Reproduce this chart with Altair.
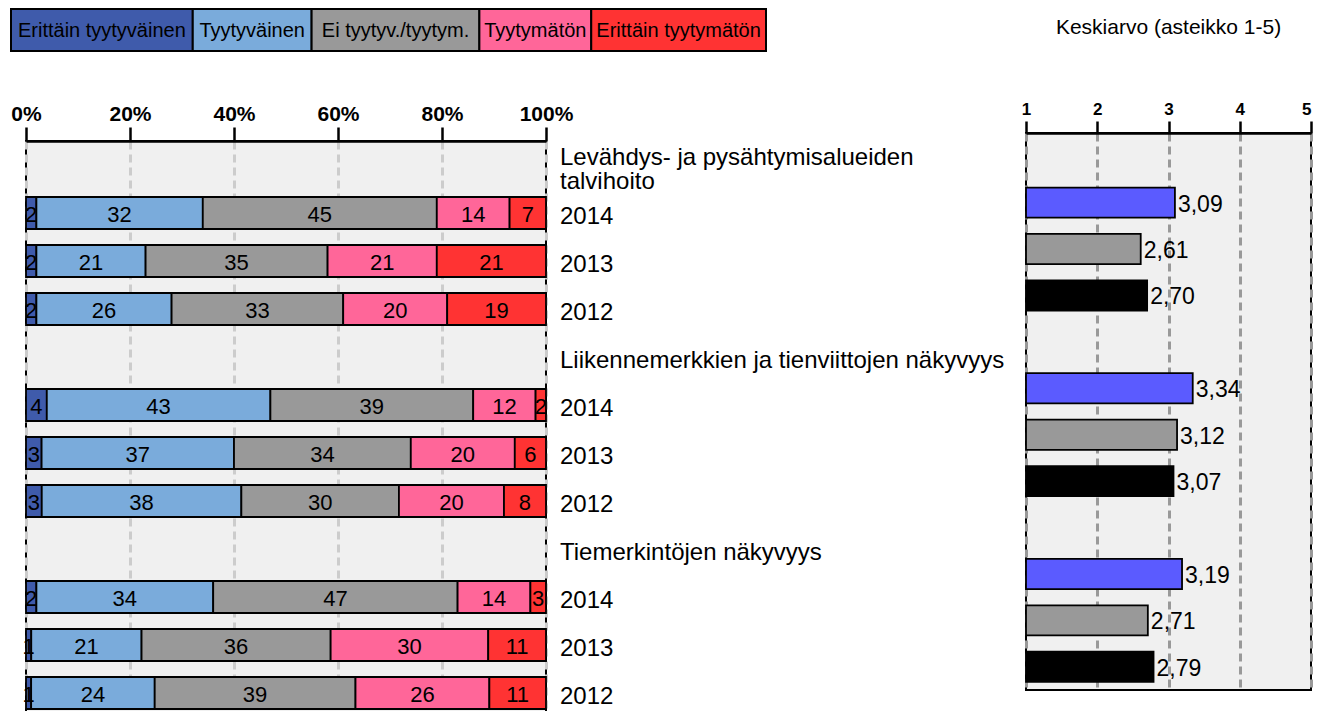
import altair as alt
import pandas as pd

FONT = "Liberation Sans"

# ---------------- data ----------------
categories = [
    "Levähdys- ja pysähtymisalueiden\ntalvihoito",
    "Liikennemerkkien ja tienviittojen näkyvyys",
    "Tiemerkintöjen näkyvyys",
]
years = ["2014", "2013", "2012"]
levels = ["Erittäin tyytyväinen", "Tyytyväinen", "Ei tyytyv./tyytym.",
          "Tyytymätön", "Erittäin tyytymätön"]
level_colors = ["#3f5bab", "#7aabdb", "#999999", "#ff6699", "#ff3333"]
year_colors = ["#5b5bff", "#999999", "#000000"]

# shares (%) per level, order: cat1 2014/2013/2012, cat2 ..., cat3 ...
very_satisfied = [2, 2, 2, 4, 3, 3, 2, 1, 1]
satisfied      = [32, 21, 26, 43, 37, 38, 34, 21, 24]
neutral        = [45, 35, 33, 39, 34, 30, 47, 36, 39]
dissatisfied   = [14, 21, 20, 12, 20, 20, 14, 30, 26]
very_dissat    = [7, 21, 19, 2, 6, 8, 3, 11, 11]
shares = [very_satisfied, satisfied, neutral, dissatisfied, very_dissat]

means = [3.09, 2.61, 2.70, 3.34, 3.12, 3.07, 3.19, 2.71, 2.79]

# ---------------- tables ----------------
rows = []
label_recs = []
for c, cat in enumerate(categories):
    rows.append(f"{c}-h")
    label_recs.append({"row": f"{c}-h", "label": cat})
    for y in years:
        rows.append(f"{c}-{y}")
        label_recs.append({"row": f"{c}-{y}", "label": y})
df_labels = pd.DataFrame(label_recs)

long_recs = []
mean_recs = []
k = 0
for c in range(len(categories)):
    for y in years:
        r = f"{c}-{y}"
        for li, lvl in enumerate(levels):
            long_recs.append({"row": r, "level": lvl, "idx": li, "share": shares[li][k]})
        mean_recs.append({"row": r, "year": y, "mean": means[k],
                          "label": f"{means[k]:.2f}".replace(".", ",")})
        k += 1
df_long = pd.DataFrame(long_recs)
df_mean = pd.DataFrame(mean_recs)
df_leg = pd.DataFrame({"level": levels, "idx": list(range(len(levels)))})

# ---------------- legend (box width follows label length) ----------------
leg_base = alt.Chart(df_leg).transform_calculate(
    w="length(datum.level) + 6"
).transform_stack(
    stack="w", as_=["a0", "a1"], groupby=[],
    sort=[alt.SortField("idx", order="ascending")], offset="normalize"
).transform_calculate(amid="(datum.a0 + datum.a1) / 2")

leg_scale = alt.Scale(domain=[0, 1], range=[-15, 740], nice=False, zero=False)
leg_rect = leg_base.mark_rect(stroke="black", strokeWidth=2).encode(
    x=alt.X("a0:Q", scale=leg_scale, axis=None), x2="a1:Q",
    y=alt.value(0), y2=alt.value(42),
    color=alt.Color("level:N", scale=alt.Scale(domain=levels, range=level_colors), legend=None),
)
leg_text = leg_base.mark_text(fontSize=20, color="black", baseline="middle", dy=1).encode(
    x=alt.X("amid:Q", scale=leg_scale, axis=None), y=alt.value(21), text="level:N"
)
legend = alt.layer(leg_rect, leg_text).properties(width=755, height=42)

# ---------------- left panel ----------------
yL = alt.Y("row:N", sort=rows,
           scale=alt.Scale(domain=rows, paddingInner=1/3, paddingOuter=1/6), axis=None)
x_axis_L = alt.Axis(orient="top", values=[0, 0.2, 0.4, 0.6, 0.8, 1.0], format="%", title=None,
                    labelFontSize=21, labelFontWeight="bold", labelColor="black", labelPadding=3,
                    labelFlush=False,
                    tickSize=14, tickWidth=2.5, tickColor="black",
                    domainColor="black", domainWidth=2.5,
                    grid=True, gridColor="#cccccc", gridWidth=3, gridDash=[8, 5])

stacked = alt.Chart(df_long).transform_stack(
    stack="share", as_=["s0", "s1"], groupby=["row"],
    sort=[alt.SortField("idx", order="ascending")], offset="normalize"
).transform_calculate(mid="(datum.s0 + datum.s1) / 2")

bars_L = stacked.mark_bar(stroke="black", strokeWidth=1.8).encode(
    x=alt.X("s0:Q", scale=alt.Scale(domain=[0, 1], nice=False), axis=x_axis_L),
    x2="s1:Q",
    y=yL,
    color=alt.Color("level:N", scale=alt.Scale(domain=levels, range=level_colors), legend=None),
)
vals_L = stacked.mark_text(fontSize=22, color="black", baseline="middle", dy=2).encode(
    x="mid:Q", y=yL, text=alt.Text("share:Q", format="d")
)
label_base = alt.Chart(df_labels).transform_calculate(
    multi="indexof(datum.label, '\\n') >= 0"
)
row_labels_single = label_base.transform_filter("!datum.multi").mark_text(
    align="left", baseline="middle", fontSize=24, color="black", dy=4
).encode(x=alt.value(534), y=yL, text="label:N")
row_labels_multi = label_base.transform_filter("datum.multi").mark_text(
    align="left", baseline="middle", fontSize=24, color="black", dy=-7,
    lineBreak="\n", lineHeight=24
).encode(x=alt.value(534), y=yL, text="label:N")

left = alt.layer(bars_L, vals_L, row_labels_single, row_labels_multi).properties(
    width=520, height=576,
    view=alt.ViewBackground(fill="#f0f0f0", stroke="black", strokeWidth=2),
)

spacer = alt.Chart(pd.DataFrame({"v": [0]})).mark_rule(opacity=0).encode(
    x=alt.value(0), y=alt.value(0), y2=alt.value(1)
).properties(width=1, height=1)

# ---------------- right panel ----------------
yR = alt.Y("row:N", sort=rows,
           scale=alt.Scale(domain=rows, paddingInner=0.35, paddingOuter=0.175), axis=None)
x_axis_R = alt.Axis(orient="top", values=[1, 2, 3, 4, 5], format="d", title=None,
                    labelFontSize=17, labelFontWeight="bold", labelColor="black", labelPadding=3,
                    labelFlush=False,
                    labelAlign={"condition": {"test": "datum.value === 5", "value": "right"},
                                "value": "center"},
                    tickSize=12, tickWidth=2.5, tickColor="black",
                    domainColor="black", domainWidth=2.5,
                    grid=True, gridColor="#999999", gridWidth=3, gridDash=[8, 5])

bars_R = alt.Chart(df_mean).mark_bar(stroke="black", strokeWidth=1.8).encode(
    x=alt.X("mean:Q", scale=alt.Scale(domain=[1, 5], nice=False, zero=False), axis=x_axis_R),
    x2=alt.datum(1),
    y=yR,
    color=alt.Color("year:N", scale=alt.Scale(domain=years, range=year_colors), legend=None),
)
vals_R = alt.Chart(df_mean).mark_text(align="left", baseline="middle", fontSize=23,
                                      color="black", dx=3, dy=2).encode(
    x="mean:Q", y=yR, text="label:N"
)
right = alt.layer(bars_R, vals_R).properties(
    width=285, height=557,
    title=alt.TitleParams("Keskiarvo (asteikko 1-5)", fontSize=21, fontWeight="normal",
                          color="black", anchor="middle", offset=62),
    view=alt.ViewBackground(fill="#f0f0f0", stroke="black", strokeWidth=2),
)

left_col = alt.vconcat(spacer, left, spacing=7, bounds="flush").resolve_scale(
    color="independent", x="independent", y="independent")
bottom = alt.hconcat(left_col, right, spacing=1000, bounds="flush").resolve_scale(
    color="independent", x="independent", y="independent")

chart = alt.vconcat(legend, bottom, spacing=82, bounds="flush").resolve_scale(
    color="independent", x="independent", y="independent"
).properties(
    padding={"left": 1, "top": 0, "right": 0, "bottom": 5}
).configure(font=FONT).configure_view(strokeWidth=0)

chart.save("out.html", embed_options={"renderer": "svg", "actions": False})
